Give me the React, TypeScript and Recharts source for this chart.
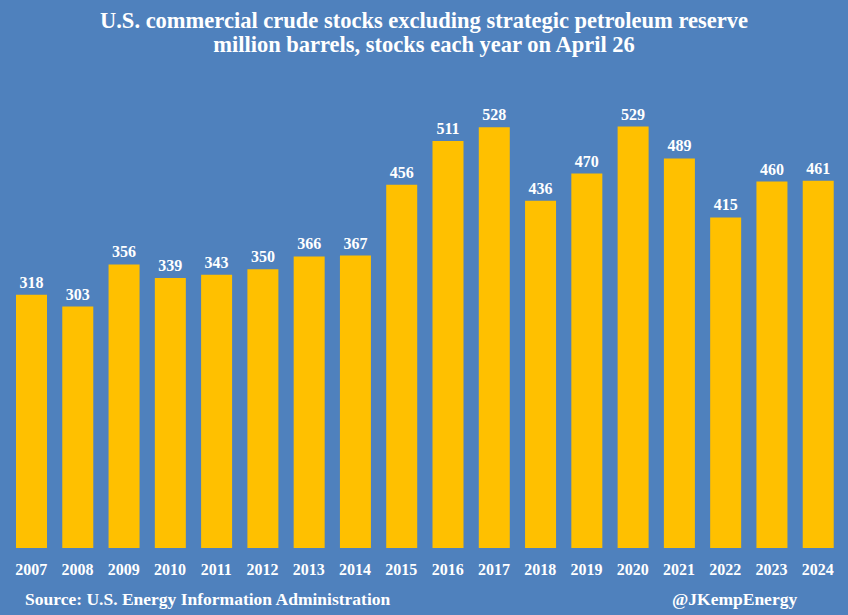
import { BarChart, Bar, XAxis, YAxis, LabelList } from "recharts";

const YEARS = ["2007", "2008", "2009", "2010", "2011", "2012", "2013", "2014", "2015", "2016", "2017", "2018", "2019", "2020", "2021", "2022", "2023", "2024"];
const STOCKS = [318, 303, 356, 339, 343, 350, 366, 367, 456, 511, 528, 436, 470, 529, 489, 415, 460, 461];

const TITLE = "U.S. commercial crude stocks excluding strategic petroleum reserve";
const SUBTITLE = "million barrels, stocks each year on April 26";
const SOURCE = "Source: U.S. Energy Information Administration";
const CREDIT = "@JKempEnergy";

const BG = "#4f81bd";
const GOLD = "#ffc000";
const FONT = "'Liberation Serif', 'DejaVu Serif', serif";

const chartData = YEARS.map((year, i) => ({ year, stocks: STOCKS[i] }));

export default function App() {
  return (
    <div
      style={{
        position: "absolute",
        left: 0,
        top: 0,
        width: 848,
        height: 615,
        background: BG,
        fontFamily: FONT,
        color: "#fff",
        fontWeight: "bold",
        overflow: "hidden",
      }}
    >
      <div style={{ position: "absolute", top: 9, width: "100%", textAlign: "center", fontSize: 22.5, lineHeight: "24px" }}>
        <div>{TITLE}</div>
        <div>{SUBTITLE}</div>
      </div>
      <BarChart
        width={848}
        height={615}
        data={chartData}
        margin={{ top: 70, right: 7, left: 8, bottom: 37 }}
      >
        <XAxis
          dataKey="year"
          height={30}
          axisLine={false}
          tickLine={false}
          interval={0}
          tick={{ fill: "#fff", fontSize: 16, fontWeight: "bold", fontFamily: FONT }}
          dy={8}
        />
        <YAxis hide domain={[0, 600]} />
        <Bar dataKey="stocks" fill={GOLD} barSize={31} isAnimationActive={false}>
          <LabelList
            dataKey="stocks"
            position="top"
            offset={7}
            fill="#fff"
            fontSize={16}
            fontWeight="bold"
            fontFamily={FONT}
          />
        </Bar>
      </BarChart>
      <div style={{ position: "absolute", left: 25, top: 589, fontSize: 17.5 }}>{SOURCE}</div>
      <div style={{ position: "absolute", left: 672, top: 589, fontSize: 17.5 }}>{CREDIT}</div>
    </div>
  );
}
